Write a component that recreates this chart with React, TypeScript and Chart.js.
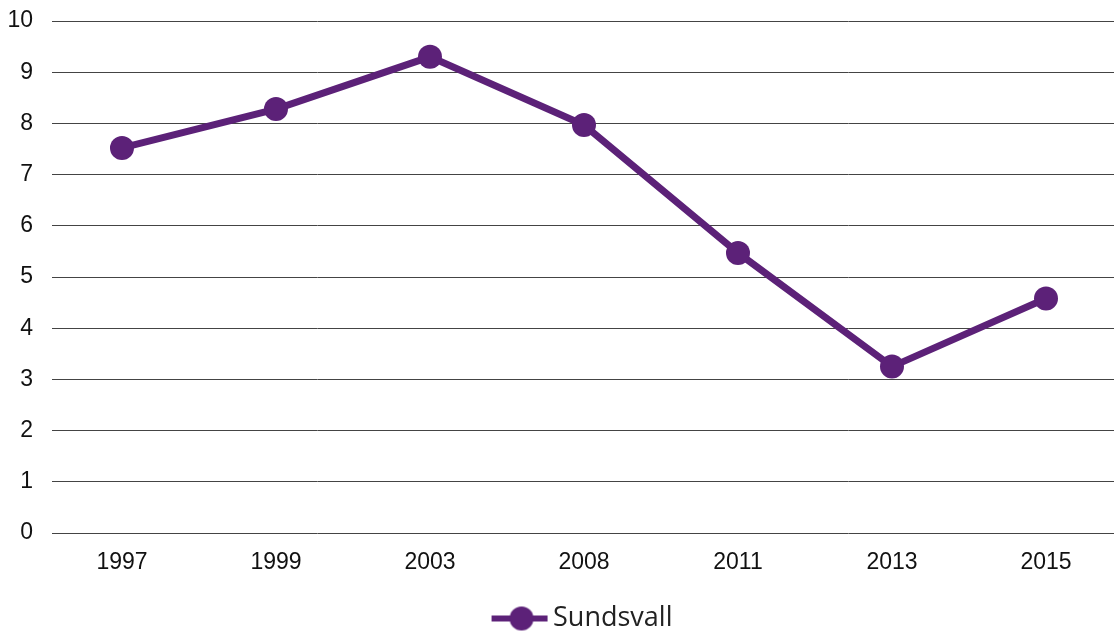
import React, { useEffect, useRef } from "react";
import { Chart, registerables } from "chart.js";

Chart.register(...registerables);

const categories = ["1997", "1999", "2003", "2008", "2011", "2013", "2015"];
const sundsvall = [7.52, 8.28, 9.3, 7.97, 5.47, 3.25, 4.58];
const yTicks = [0, 1, 2, 3, 4, 5, 6, 7, 8, 9, 10];
const seriesName = "Sundsvall";
const purple = "#5c2178";

function makeLegendIcon(): HTMLCanvasElement {
  const c = document.createElement("canvas");
  c.width = 116;
  c.height = 26;
  const ctx = c.getContext("2d")!;
  ctx.strokeStyle = purple;
  ctx.lineWidth = 6;
  ctx.beginPath();
  ctx.moveTo(59, 13);
  ctx.lineTo(115, 13);
  ctx.stroke();
  ctx.fillStyle = purple;
  ctx.beginPath();
  ctx.arc(89, 13, 12, 0, Math.PI * 2);
  ctx.fill();
  return c;
}

export default function App() {
  const ref = useRef<HTMLCanvasElement>(null);
  useEffect(() => {
    document.body.style.margin = "0";
    const icon = makeLegendIcon();
    const chart = new Chart(ref.current!, {
      type: "line",
      data: {
        datasets: [
          {
            label: seriesName,
            data: sundsvall.map((v, i) => ({ x: i, y: v })),
            borderColor: purple,
            backgroundColor: purple,
            borderWidth: 7,
            pointRadius: 12,
            pointHoverRadius: 12,
            pointBackgroundColor: purple,
            pointBorderWidth: 0,
            pointStyle: "circle",
            tension: 0,
            clip: false as any,
          },
        ],
      },
      options: {
        animation: false,
        responsive: false,
        layout: { autoPadding: false, padding: { top: 21, right: 0, left: 0, bottom: -10 } } as any,
        plugins: {
          tooltip: { enabled: false },
          legend: {
            position: "bottom",
            labels: {
              usePointStyle: true,
              pointStyleWidth: 98,
              padding: 0,
              color: "#222",
              font: { family: "'Open Sans', sans-serif", size: 27 },
              generateLabels: () => [
                {
                  text: seriesName,
                  pointStyle: icon as any,
                  fillStyle: purple,
                  strokeStyle: purple,
                  fontColor: "#222",
                  lineWidth: 0,
                  hidden: false,
                  datasetIndex: 0,
                } as any,
              ],
            },
          },
        },
        scales: {
          x: {
            type: "linear",
            min: -0.4545,
            max: 6.4416,
            afterFit: (s: any) => {
              s.height = 72;
              s.paddingLeft = 0;
              s.paddingRight = 0;
            },
            afterBuildTicks: (s: any) => {
              s.ticks = categories.map((_, i) => ({ value: i }));
            },
            grid: { display: false, drawTicks: false },
            border: { display: false },
            ticks: {
              color: "#111",
              padding: 16,
              maxRotation: 0,
              autoSkip: false,
              callback: (v: any) => categories[v as number] ?? "",
              font: { family: "'Liberation Sans', Arial, sans-serif", size: 23 },
            },
          },
          y: {
            min: 0,
            max: 10,
            afterFit: (s: any) => {
              s.width = 52;
              s.paddingTop = 0;
              s.paddingBottom = 0;
            },
            afterBuildTicks: (s: any) => {
              s.ticks = yTicks.map((v) => ({ value: v }));
            },
            grid: { color: "#444", lineWidth: 1, drawTicks: false },
            border: { display: false },
            ticks: {
              color: "#111",
              padding: 19,
              font: { family: "'Liberation Sans', Arial, sans-serif", size: 23 },
            },
          },
        },
      },
    });
    return () => chart.destroy();
  }, []);
  return (
    <div style={{ width: 1114, height: 632 }}>
      <canvas ref={ref} width={1114} height={632} style={{ display: "block" }} />
    </div>
  );
}
